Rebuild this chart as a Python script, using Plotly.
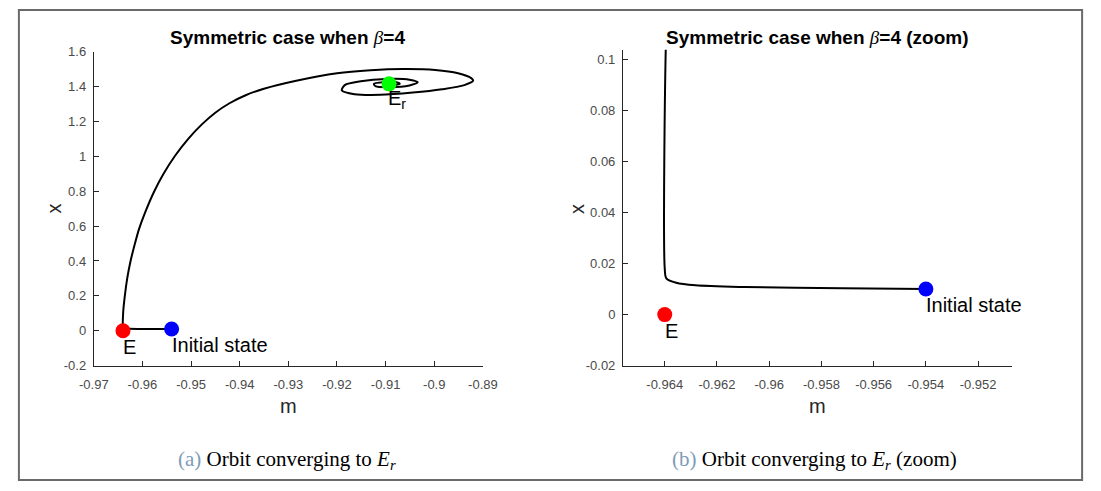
import plotly.graph_objects as go

# ---------------- data ----------------
# orbit (m, x), from the initial state to E_r
traj_m = [-0.954, -0.9572, -0.96095, -0.96282, -0.96356, -0.96394, -0.96400, -0.96396,
          -0.96362, -0.96312, -0.96244, -0.96166, -0.96074, -0.95954, -0.95756, -0.95566,
          -0.95336, -0.95058, -0.94778, -0.94502, -0.9421, -0.93878, -0.93502, -0.92838,
          -0.91998, -0.9131, -0.9064, -0.8998, -0.8951, -0.8924,
          -0.8920, -0.8938, -0.8984, -0.9044, -0.9111, -0.9164, -0.9190, -0.9184,
          -0.9151, -0.9098, -0.9051, -0.9034, -0.9051, -0.9091, -0.9121, -0.9124,
          -0.9104, -0.9078, -0.9071, -0.9088, -0.9093]
traj_x = [0.01006, 0.0103, 0.0108, 0.01145, 0.01245, 0.0142, 0.018, 0.105,
          0.2, 0.302, 0.4, 0.487, 0.58, 0.672, 0.8, 0.9,
          1.0, 1.1, 1.183, 1.25, 1.304, 1.35, 1.387, 1.433,
          1.476, 1.493, 1.500, 1.495, 1.476, 1.448,
          1.434, 1.408, 1.384, 1.365, 1.352, 1.356, 1.378, 1.408,
          1.430, 1.443, 1.439, 1.424, 1.406, 1.396, 1.402, 1.415,
          1.424, 1.424, 1.415, 1.409, 1.415]

E_point = (-0.964, 0.0)
init_point = (-0.954, 0.01)
Er_point = (-0.9093, 1.415)

left_xticks = [-0.97, -0.96, -0.95, -0.94, -0.93, -0.92, -0.91, -0.90, -0.89]
left_xlabels = ["-0.97", "-0.96", "-0.95", "-0.94", "-0.93", "-0.92", "-0.91", "-0.9", "-0.89"]
left_yticks = [-0.2, 0, 0.2, 0.4, 0.6, 0.8, 1.0, 1.2, 1.4, 1.6]
left_ylabels = ["-0.2", "0", "0.2", "0.4", "0.6", "0.8", "1", "1.2", "1.4", "1.6"]
right_xticks = [-0.964, -0.962, -0.960, -0.958, -0.956, -0.954, -0.952]
right_xlabels = ["-0.964", "-0.962", "-0.96", "-0.958", "-0.956", "-0.954", "-0.952"]
right_yticks = [-0.02, 0, 0.02, 0.04, 0.06, 0.08, 0.10]
right_ylabels = ["-0.02", "0", "0.02", "0.04", "0.06", "0.08", "0.1"]

title_left = "Symmetric case when <span style='font-family:Liberation Serif;font-weight:normal'><i>β</i></span>=4"
title_right = title_left + " (zoom)"
caption_a = "<span style='color:#7d9bb8'>(a)</span> Orbit converging to <i>E<sub>r</sub></i>"
caption_b = "<span style='color:#7d9bb8'>(b)</span> Orbit converging to <i>E<sub>r</sub></i> (zoom)"

# ---------------- layout geometry (pixels) ----------------
W, H = 1101, 491
def px(x): return x / W
def py(y): return 1 - y / H

SANS = "Liberation Sans, Arial, sans-serif"
AX = "#262626"

fig = go.Figure()

for xa, ya in (("x", "y"), ("x2", "y2")):
    fig.add_trace(go.Scatter(x=traj_m, y=traj_x, mode="lines", xaxis=xa, yaxis=ya,
                             line=dict(color="black", width=2, shape="spline", smoothing=0.8),
                             showlegend=False, hoverinfo="skip"))
    for pt, col in ((E_point, "#ff0000"), (init_point, "#0000ff")):
        fig.add_trace(go.Scatter(x=[pt[0]], y=[pt[1]], mode="markers", xaxis=xa, yaxis=ya,
                                 marker=dict(color=col, size=15), showlegend=False))
fig.add_trace(go.Scatter(x=[Er_point[0]], y=[Er_point[1]], mode="markers", xaxis="x", yaxis="y",
                         marker=dict(color="#00ff00", size=15), showlegend=False))

axis_common = dict(showline=True, linecolor=AX, linewidth=1, ticks="inside", ticklen=5,
                   tickcolor=AX, showgrid=False, zeroline=False, mirror=False,
                   tickfont=dict(family=SANS, size=13, color="#4a4a4a"))

fig.update_layout(
    width=W, height=H, autosize=False,
    margin=dict(l=0, r=0, t=0, b=0),
    paper_bgcolor="white", plot_bgcolor="white",
    xaxis=dict(domain=[px(81), px(481)], range=[-0.97, -0.89], anchor="y",
               tickvals=left_xticks, ticktext=left_xlabels, ticklabelstandoff=7, **axis_common),
    yaxis=dict(domain=[py(370), py(46)], range=[-0.2, 1.6], anchor="x",
               tickvals=left_yticks, ticktext=left_ylabels, ticklabelstandoff=4, **axis_common),
    xaxis2=dict(domain=[px(625), px(1025)], range=[-0.9656, -0.9507], anchor="y2",
                tickvals=right_xticks, ticktext=right_xlabels, ticklabelstandoff=7, **axis_common),
    yaxis2=dict(domain=[py(370), py(44)], range=[-0.02, 0.1037], anchor="x2",
                tickvals=right_yticks, ticktext=right_ylabels, ticklabelstandoff=4, **axis_common),
    showlegend=False,
)

ann = []
# titles
for cx, t in ((280, title_left), (825, title_right)):
    ann.append(dict(text="<b>" + t + "</b>", x=px(cx), y=py(31), xref="paper", yref="paper",
                    xanchor="center", yanchor="middle", showarrow=False,
                    font=dict(family=SANS, size=19, color="black")))
# axis labels
for cx in (281, 825):
    ann.append(dict(text="m", x=px(cx), y=py(412), xref="paper", yref="paper",
                    xanchor="center", yanchor="middle", showarrow=False,
                    font=dict(family=SANS, size=20, color=AX)))
for cx, cy in ((40, 208), (577, 208)):
    ann.append(dict(text="x", x=px(cx), y=py(cy), xref="paper", yref="paper", textangle=-90,
                    xanchor="center", yanchor="middle", showarrow=False,
                    font=dict(family=SANS, size=20, color=AX)))
# point labels
for xr, yr in (("x", "y"), ("x2", "y2")):
    ann.append(dict(text="E", x=E_point[0], y=E_point[1], xref=xr, yref=yr,
                    xanchor="left", yanchor="top", yshift=-3, xshift=-2, showarrow=False,
                    font=dict(family=SANS, size=20, color="black")))
    ann.append(dict(text="Initial state", x=init_point[0], y=init_point[1], xref=xr, yref=yr,
                    xanchor="left", yanchor="top", yshift=-3, xshift=-2, showarrow=False,
                    font=dict(family=SANS, size=20, color="black")))
ann.append(dict(text="E<sub>r</sub>", x=Er_point[0], y=Er_point[1], xref="x", yref="y",
                xanchor="left", yanchor="top", yshift=-1, xshift=-3, showarrow=False,
                font=dict(family=SANS, size=20, color="black")))
# captions
for cx, t in ((280, caption_a), (822, caption_b)):
    ann.append(dict(text=t, x=px(cx), y=py(467), xref="paper", yref="paper",
                    xanchor="center", yanchor="middle", showarrow=False,
                    font=dict(family="Liberation Serif, serif", size=21, color="black")))
fig.update_layout(annotations=ann)

# outer frame
fig.add_shape(type="rect", xref="paper", yref="paper", x0=px(4), x1=px(1097), y0=py(488), y1=py(3),
              line=dict(color="#6a6a6a", width=2), fillcolor="rgba(0,0,0,0)", layer="above")

fig.write_html("out.html")
